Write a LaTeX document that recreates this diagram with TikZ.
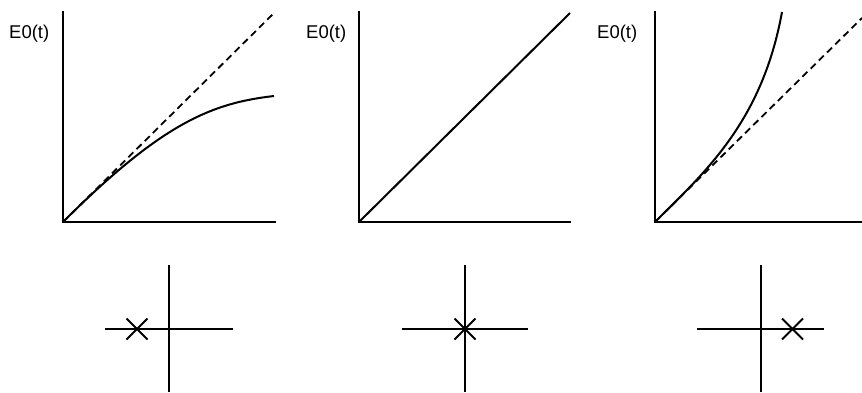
\documentclass[tikz,border=0pt]{standalone}
\usepackage{fontspec}
\setmainfont{Liberation Sans}
\begin{document}
\begin{tikzpicture}[x=1pt,y=-1pt,
  axis/.style={line width=2pt,line cap=rect},
  curve/.style={line width=2pt},
  asym/.style={line width=1.8pt,dash pattern=on 7pt off 4.5pt},
  lbl/.style={anchor=base west,inner sep=0pt,font=\fontsize{18.5}{20}\selectfont},
  pole/.style={line width=1.8pt}]
\useasboundingbox (0,0) rectangle (862,392);
% panel 1
\coordinate (o1) at (63,222);
\node[lbl] (l1) at (9,38) {E0(t)};
\draw[axis] (63,12) -- (o1) -- (275,222);
\draw[asym] (o1) -- (274,13);
\draw[curve] (o1) .. controls +(100,-100) and +(-61,7) .. (274,96);
% panel 2
\coordinate (o2) at (359,222);
\node[lbl] (l2) at (306,38) {E0(t)};
\draw[axis] (359,12) -- (o2) -- (570,222);
\draw[curve] (o2) -- (570,13);
% panel 3
\coordinate (o3) at (655,222);
\node[lbl] (l3) at (597,38) {E0(t)};
\draw[axis] (655,12) -- (o3) -- (862,222);
\draw[asym] (o3) -- (862,18);
\draw[curve] (o3) .. controls +(50,-50) and +(-20,110) .. (782,12);
% pole diagrams
\draw[axis,line cap=butt] (169,265) -- (169,392) (105,329) -- (233,329);
\draw[pole] (126.5,318.5) -- (147.5,339.5) (126.5,339.5) -- (147.5,318.5);
\draw[axis,line cap=butt] (465,265) -- (465,392) (402,329) -- (528,329);
\draw[pole] (454.5,318.5) -- (475.5,339.5) (454.5,339.5) -- (475.5,318.5);
\draw[axis,line cap=butt] (761,265) -- (761,392) (697,329) -- (824,329);
\draw[pole] (782,318.5) -- (803,339.5) (782,339.5) -- (803,318.5);
\end{tikzpicture}
\end{document}
